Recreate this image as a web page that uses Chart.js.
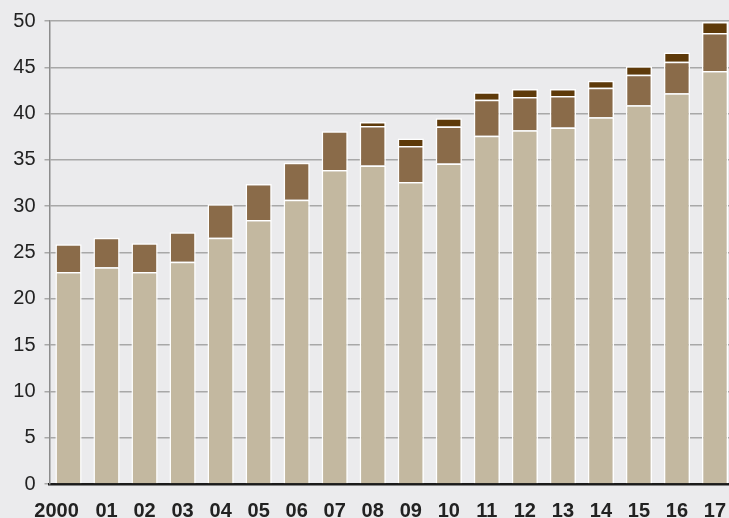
<!DOCTYPE html>
<html lang="en">
<head>
<meta charset="UTF-8">
<title>Stacked bars 2000-17</title>
<script src="https://cdn.jsdelivr.net/npm/chart.js"></script>
<style>
  html, body { margin: 0; padding: 0; background: #ebebed; overflow: hidden; }
  .frame { width: 729px; height: 518px; overflow: hidden; }
  canvas { display: block; }
</style>
</head>
<body>
<!-- the last bar runs slightly past the right edge in the original, so the canvas is a bit wider than the frame -->
<div class="frame"><canvas id="barChart" width="734" height="518"></canvas></div>

<script>
// data
const years = ['2000', '01', '02', '03', '04', '05', '06', '07', '08',
  '09', '10', '11', '12', '13', '14', '15', '16', '17'];
const baseValues = [22.9, 23.4, 22.9, 24.0, 26.6, 28.5, 30.7, 33.9, 34.4,
  32.6, 34.6, 37.6, 38.2, 38.5, 39.6, 40.9, 42.2, 44.6];
const midValues = [3.0, 3.2, 3.1, 3.2, 3.6, 3.9, 4.0, 4.2, 4.25,
  3.9, 4.0, 3.9, 3.6, 3.4, 3.2, 3.3, 3.4, 4.1];
const topValues = [null, null, null, null, null, null, null, null, 0.45,
  0.8, 0.9, 0.8, 0.85, 0.75, 0.75, 0.9, 1.0, 1.2];
const yTicks = [0, 5, 10, 15, 20, 25, 30, 35, 40, 45, 50];

const fontFamily = "'Liberation Sans', Arial, Helvetica, sans-serif";

// the "2000" label sits a bit left of its bar in the original
const shiftFirstLabel = {
  id: 'shiftFirstLabel',
  beforeDraw(chart) {
    const items = chart.scales.x.getLabelItems();
    if (items.length) items[0].options.translation[0] -= 12;
  }
};

const ctx = document.getElementById('barChart').getContext('2d');
new Chart(ctx, {
  type: 'bar',
  data: {
    labels: years,
    datasets: [{
      data: baseValues,
      backgroundColor: '#c3b8a0'
    }, {
      data: midValues,
      backgroundColor: '#8a6b49'
    }, {
      data: topValues,
      backgroundColor: '#5e3a0a'
    }]
  },
  options: {
    responsive: false,
    animation: false,
    layout: { padding: { top: 19, right: 0, left: 0, bottom: 0 } },
    datasets: {
      bar: {
        barPercentage: 0.69,
        categoryPercentage: 1,
        borderColor: '#ffffff',
        borderWidth: 1.5
      }
    },
    plugins: {
      legend: { display: false },
      tooltip: { enabled: false }
    },
    scales: {
      x: {
        stacked: true,
        // invisible tick marks push the labels down without adding side padding
        grid: { display: true, drawOnChartArea: false, drawTicks: true, tickLength: 15, color: 'rgba(0,0,0,0)' },
        border: { display: true, color: '#1a1a1a', width: 2.5 },
        ticks: {
          color: '#222222',
          padding: 0,
          maxRotation: 0,
          autoSkip: false,
          font: { family: fontFamily, size: 20, weight: 'bold' }
        },
        afterFit: s => { s.height = 34; }
      },
      y: {
        stacked: true,
        min: 0,
        max: 50,
        afterBuildTicks: s => { s.ticks = yTicks.map(v => ({ value: v })); },
        grid: { color: '#a8a8a8', lineWidth: 1.5, tickLength: 5 },
        border: { color: '#8c8c8c', width: 1.5 },
        ticks: {
          color: '#222222',
          padding: 9,
          font: { family: fontFamily, size: 20 }
        },
        afterFit: s => { s.width = 49.5; }
      }
    }
  },
  plugins: [shiftFirstLabel]
});
</script>
</body>
</html>
